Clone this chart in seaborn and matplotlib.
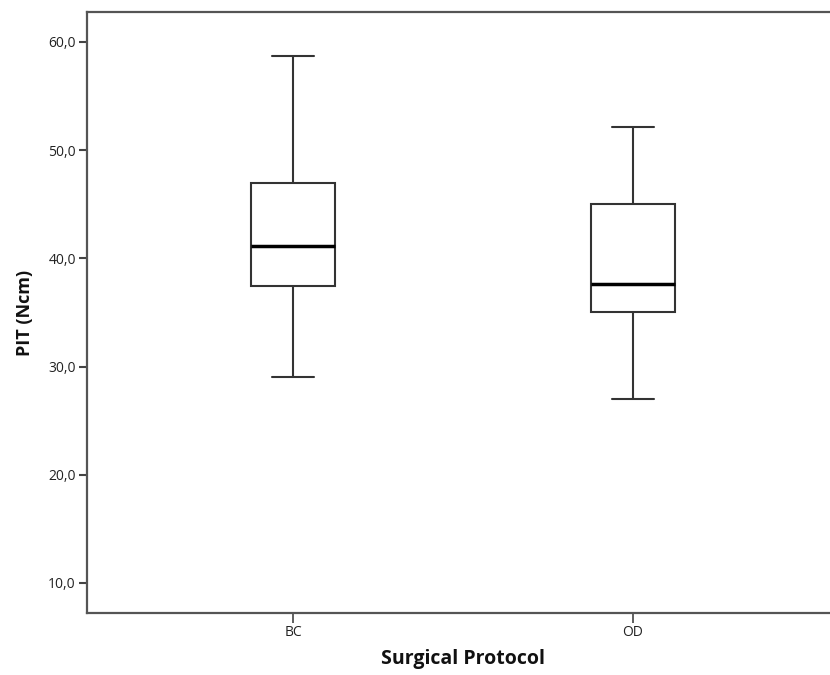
import numpy as np
import pandas as pd
import matplotlib
matplotlib.use("Agg")
import matplotlib.pyplot as plt
import seaborn as sns

# Data (five-number summaries per group)
categories = ["BC", "OD"]
bc_summary = [29.0, 37.4, 41.1, 47.0, 58.7]   # min, Q1, median, Q3, max
od_summary = [27.0, 35.0, 37.6, 45.0, 52.1]
y_ticks = [10, 20, 30, 40, 50, 60]
y_tick_labels = ["10,0", "20,0", "30,0", "40,0", "50,0", "60,0"]

df = pd.DataFrame({
    "Surgical Protocol": [categories[0]] * len(bc_summary) + [categories[1]] * len(od_summary),
    "PIT": bc_summary + od_summary,
})

sns.set_theme(style="white")
plt.rcParams["font.family"] = ["Open Sans", "DejaVu Sans"]

fig = plt.figure(figsize=(8.3, 6.75), dpi=100)
ax = fig.add_axes([0.1048, 0.0919, 0.906, 0.8904])

edge = "#333333"
sns.boxplot(
    data=df, x="Surgical Protocol", y="PIT", order=categories,
    whis=np.inf, width=0.245, color="white", linecolor=edge, linewidth=1.5,
    fliersize=0,
    medianprops=dict(color="black", linewidth=2.5),
    ax=ax,
)

ax.set_xlim(-0.606, 1.606)
ax.set_ylim(7.23, 62.77)
ax.set_yticks(y_ticks)
ax.set_yticklabels(y_tick_labels)

for s in ["left", "bottom", "top"]:
    ax.spines[s].set_visible(True)
    ax.spines[s].set_color("#555555")
    ax.spines[s].set_linewidth(1.6)
ax.spines["right"].set_visible(False)

ax.tick_params(axis="y", which="major", left=True, length=6, width=1.5, color="#444444",
               labelsize=10, labelcolor="#222222", pad=2)
ax.tick_params(axis="x", which="major", bottom=True, length=7, width=1.2, color="#444444",
               labelsize=10, labelcolor="#222222", pad=2)

ax.set_xlabel("Surgical Protocol", fontsize=14, fontweight="bold", color="#111111", labelpad=6)
ax.set_ylabel("PIT (Ncm)", fontsize=13, fontweight="bold", color="#111111", labelpad=10)

fig.savefig("out.png", dpi=100)
